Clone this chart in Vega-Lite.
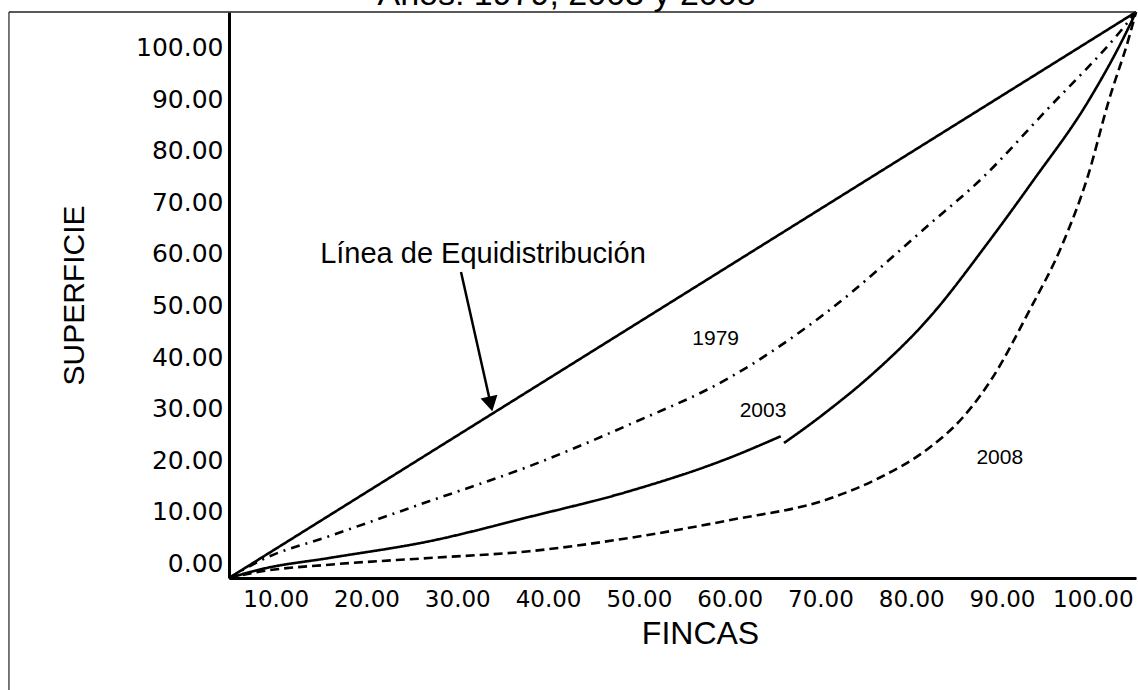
{
  "$schema": "https://vega.github.io/schema/vega-lite/v6.json",
  "width": 907,
  "height": 566,
  "autosize": {"type": "none"},
  "padding": {"left": 229, "top": 12, "right": 2, "bottom": 112},
  "background": "white",
  "title": {
    "text": "Años: 1979, 2003 y 2008",
    "font": "Liberation Sans",
    "fontSize": 34,
    "fontWeight": "normal",
    "color": "black",
    "anchor": "middle",
    "dx": -116,
    "dy": 32,
    "offset": 0,
    "baseline": "alphabetic"
  },
  "datasets": {
    "curvas": [
      {"serie": "Equidistribución", "tramo": "E", "fincas": 0, "superficie": 0},
      {"serie": "Equidistribución", "tramo": "E", "fincas": 100, "superficie": 100},
      {"serie": "1979", "tramo": "1979", "fincas": 0, "superficie": 0},
      {"serie": "1979", "tramo": "1979", "fincas": 3.64, "superficie": 3.23},
      {"serie": "1979", "tramo": "1979", "fincas": 11.03, "superficie": 7.37},
      {"serie": "1979", "tramo": "1979", "fincas": 22.05, "superficie": 13.55},
      {"serie": "1979", "tramo": "1979", "fincas": 33.08, "superficie": 19.73},
      {"serie": "1979", "tramo": "1979", "fincas": 44.1, "superficie": 27.09},
      {"serie": "1979", "tramo": "1979", "fincas": 55.13, "superficie": 35.34},
      {"serie": "1979", "tramo": "1979", "fincas": 65.79, "superficie": 46.82},
      {"serie": "1979", "tramo": "1979", "fincas": 77.18, "superficie": 62.42},
      {"serie": "1979", "tramo": "1979", "fincas": 83.05, "superficie": 70.67},
      {"serie": "1979", "tramo": "1979", "fincas": 90.04, "superficie": 82.5},
      {"serie": "1979", "tramo": "1979", "fincas": 98.49, "superficie": 97.0},
      {"serie": "1979", "tramo": "1979", "fincas": 100, "superficie": 100},
      {"serie": "2003", "tramo": "2003a", "fincas": 0, "superficie": 0},
      {"serie": "2003", "tramo": "2003a", "fincas": 3.64, "superficie": 1.59},
      {"serie": "2003", "tramo": "2003a", "fincas": 11.03, "superficie": 3.53},
      {"serie": "2003", "tramo": "2003a", "fincas": 22.05, "superficie": 6.48},
      {"serie": "2003", "tramo": "2003a", "fincas": 33.08, "superficie": 10.78},
      {"serie": "2003", "tramo": "2003a", "fincas": 44.1, "superficie": 15.32},
      {"serie": "2003", "tramo": "2003a", "fincas": 55.13, "superficie": 21.2},
      {"serie": "2003", "tramo": "2003a", "fincas": 60.83, "superficie": 25.04},
      {"serie": "2003", "tramo": "2003b", "fincas": 61.19, "superficie": 23.85},
      {"serie": "2003", "tramo": "2003b", "fincas": 64.69, "superficie": 27.9},
      {"serie": "2003", "tramo": "2003b", "fincas": 66.15, "superficie": 29.7},
      {"serie": "2003", "tramo": "2003b", "fincas": 70.56, "superficie": 35.5},
      {"serie": "2003", "tramo": "2003b", "fincas": 77.18, "superficie": 45.94},
      {"serie": "2003", "tramo": "2003b", "fincas": 83.79, "superficie": 59.49},
      {"serie": "2003", "tramo": "2003b", "fincas": 88.57, "superficie": 70.0},
      {"serie": "2003", "tramo": "2003b", "fincas": 94.82, "superficie": 84.45},
      {"serie": "2003", "tramo": "2003b", "fincas": 99.23, "superficie": 97.4},
      {"serie": "2003", "tramo": "2003b", "fincas": 100, "superficie": 100},
      {"serie": "2008", "tramo": "2008", "fincas": 0, "superficie": 0},
      {"serie": "2008", "tramo": "2008", "fincas": 3.64, "superficie": 1.18},
      {"serie": "2008", "tramo": "2008", "fincas": 11.03, "superficie": 2.35},
      {"serie": "2008", "tramo": "2008", "fincas": 22.05, "superficie": 3.53},
      {"serie": "2008", "tramo": "2008", "fincas": 33.08, "superficie": 4.72},
      {"serie": "2008", "tramo": "2008", "fincas": 44.1, "superficie": 7.07},
      {"serie": "2008", "tramo": "2008", "fincas": 55.13, "superficie": 10.2},
      {"serie": "2008", "tramo": "2008", "fincas": 66.15, "superficie": 14.0},
      {"serie": "2008", "tramo": "2008", "fincas": 71.66, "superficie": 17.67},
      {"serie": "2008", "tramo": "2008", "fincas": 77.18, "superficie": 22.97},
      {"serie": "2008", "tramo": "2008", "fincas": 80.85, "superficie": 28.27},
      {"serie": "2008", "tramo": "2008", "fincas": 84.16, "superficie": 35.34},
      {"serie": "2008", "tramo": "2008", "fincas": 88.2, "superficie": 47.12},
      {"serie": "2008", "tramo": "2008", "fincas": 91.87, "superficie": 58.89},
      {"serie": "2008", "tramo": "2008", "fincas": 94.63, "superficie": 70.67},
      {"serie": "2008", "tramo": "2008", "fincas": 97.02, "superficie": 84.45},
      {"serie": "2008", "tramo": "2008", "fincas": 99.23, "superficie": 95.5},
      {"serie": "2008", "tramo": "2008", "fincas": 100, "superficie": 100}
    ],
    "flecha": [
      {"fincas": 25.58, "superficie": 54.06},
      {"fincas": 28.85, "superficie": 30.74}
    ],
    "punta": [
      {"fincas": 28.85, "superficie": 30.74}
    ],
    "anotacion": [
      {"texto": "Línea de Equidistribución", "fincas": 28.0, "superficie": 57.24}
    ],
    "anios": [
      {"texto": "1979", "fincas": 53.66, "superficie": 42.26},
      {"texto": "2003", "fincas": 58.88, "superficie": 29.45},
      {"texto": "2008", "fincas": 84.98, "superficie": 21.2}
    ]
  },
  "layer": [
    {
      "data": {"name": "curvas"},
      "mark": {"type": "line", "stroke": "black", "strokeWidth": 2.6, "interpolate": "monotone"},
      "encoding": {
        "x": {
          "field": "fincas",
          "type": "quantitative",
          "scale": {"domain": [0, 100], "nice": false},
          "axis": {
            "values": [5.15, 15.16, 25.17, 35.18, 45.19, 55.2, 65.21, 75.22, 85.23, 95.24],
            "labelExpr": "format((round(datum.index*9)+1)*10, '.2f')",
            "title": "FINCAS",
            "grid": false,
            "ticks": false,
            "domainColor": "black",
            "domainWidth": 3,
            "labelFont": "DejaVu Sans",
            "labelFontSize": 23,
            "labelColor": "black",
            "labelPadding": 10,
            "labelOverlap": false,
            "labelFlush": false,
            "labelBound": false,
            "titleFont": "Liberation Sans",
            "titleFontSize": 32,
            "titleFontWeight": "normal",
            "titleColor": "black",
            "titleX": 471,
            "titleY": 55,
            "titleBaseline": "middle",
            "titleAlign": "center"
          }
        },
        "y": {
          "field": "superficie",
          "type": "quantitative",
          "scale": {"domain": [0, 100], "nice": false},
          "axis": {
            "values": [2.6, 11.71, 20.82, 29.93, 39.04, 48.15, 57.26, 66.37, 75.48, 84.59, 93.7],
            "labelExpr": "format(round(datum.index*10)*10, '.2f')",
            "title": "SUPERFICIE",
            "grid": false,
            "ticks": false,
            "domainColor": "black",
            "domainWidth": 3,
            "labelFont": "DejaVu Sans",
            "labelFontSize": 25,
            "labelColor": "black",
            "labelPadding": 6,
            "labelOverlap": false,
            "labelFlush": false,
            "labelBound": false,
            "titleFont": "Liberation Sans",
            "titleFontSize": 30,
            "titleFontWeight": "normal",
            "titleColor": "black",
            "titleAngle": -90,
            "titleX": -155,
            "titleY": 283,
            "titleBaseline": "middle",
            "titleAlign": "center"
          }
        },
        "strokeDash": {
          "field": "serie",
          "type": "nominal",
          "scale": {
            "domain": ["Equidistribución", "1979", "2003", "2008"],
            "range": [[1, 0], [9, 6, 2, 6], [1, 0], [9, 5]]
          },
          "legend": null
        },
        "detail": {"field": "tramo", "type": "nominal"}
      }
    },
    {
      "data": {"values": [{}]},
      "mark": {"type": "rule", "stroke": "#222", "strokeWidth": 1.5},
      "encoding": {
        "x": {"datum": -24.26, "type": "quantitative"},
        "x2": {"datum": 100},
        "y": {"datum": 100, "type": "quantitative"}
      }
    },
    {
      "data": {"values": [{}]},
      "mark": {"type": "rule", "stroke": "#222", "strokeWidth": 1.2},
      "encoding": {
        "x": {"datum": -24.26, "type": "quantitative"},
        "y": {"datum": 100, "type": "quantitative"},
        "y2": {"datum": -19.79}
      }
    },
    {
      "data": {"name": "flecha"},
      "mark": {"type": "line", "stroke": "black", "strokeWidth": 2.5},
      "encoding": {
        "x": {"field": "fincas", "type": "quantitative"},
        "y": {"field": "superficie", "type": "quantitative"}
      }
    },
    {
      "data": {"name": "punta"},
      "mark": {"type": "point", "shape": "triangle-down", "filled": true, "color": "black", "opacity": 1, "size": 300, "angle": 347.4},
      "encoding": {
        "x": {"field": "fincas", "type": "quantitative"},
        "y": {"field": "superficie", "type": "quantitative"}
      }
    },
    {
      "data": {"name": "anotacion"},
      "mark": {"type": "text", "font": "Liberation Sans", "fontSize": 29, "color": "black", "align": "center", "baseline": "middle"},
      "encoding": {
        "x": {"field": "fincas", "type": "quantitative"},
        "y": {"field": "superficie", "type": "quantitative"},
        "text": {"field": "texto"}
      }
    },
    {
      "data": {"name": "anios"},
      "mark": {"type": "text", "font": "Liberation Sans", "fontSize": 21, "color": "black", "align": "center", "baseline": "middle"},
      "encoding": {
        "x": {"field": "fincas", "type": "quantitative"},
        "y": {"field": "superficie", "type": "quantitative"},
        "text": {"field": "texto"}
      }
    }
  ],
  "config": {"view": {"stroke": null}}
}
